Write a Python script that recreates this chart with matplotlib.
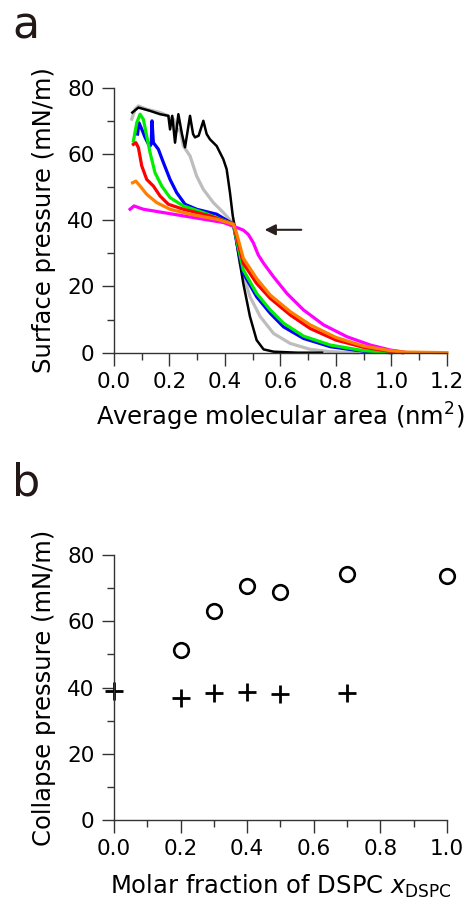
import matplotlib
matplotlib.use("Agg")
import matplotlib.pyplot as plt
from matplotlib.ticker import MultipleLocator

# panel a: pi-A isotherms (area in nm^2, pressure in mN/m)
gray_x = [0.064, 0.076, 0.088, 0.118, 0.166, 0.196, 0.208, 0.215, 0.226, 0.238, 0.25, 0.274, 0.298,
          0.322, 0.358, 0.394, 0.43, 0.442, 0.454, 0.49, 0.527, 0.575, 0.635, 0.707, 0.78, 0.876]
gray_y = [70.5, 73.5, 74.5, 73.5, 72.5, 71.5, 69.4, 70.5, 66.9, 67.5, 62.4, 59.4, 53.3,
          49.3, 45.3, 42.3, 39.0, 33.5, 27, 16.9, 10.9, 5.8, 2.8, 1.0, 0.3, 0]

black_x = [0.066, 0.088, 0.13, 0.166, 0.196, 0.202, 0.21, 0.22, 0.232, 0.245, 0.256, 0.274, 0.285,
           0.292, 0.305, 0.322, 0.334, 0.346, 0.37, 0.394, 0.406, 0.418, 0.428, 0.436, 0.442,
           0.466, 0.49, 0.514, 0.539, 0.575, 0.66, 0.75]
black_y = [72.5, 74, 73, 72, 71.5, 67.4, 71.5, 63.4, 72, 66, 62, 71.5, 66,
           65, 65.5, 70, 66, 64.4, 62.4, 58.4, 55.4, 48.3, 41.3, 37.7, 33,
           20.9, 10.9, 3.8, 1.0, 0.3, 0, 0]

blue_x = [0.085, 0.09, 0.1, 0.112, 0.124, 0.13, 0.134, 0.137, 0.142, 0.16, 0.178, 0.202, 0.226,
          0.256, 0.298, 0.37, 0.43, 0.442, 0.466, 0.514, 0.563, 0.611, 0.683, 0.78, 0.9, 1.0]
blue_y = [66, 69.4, 67.5, 65, 63, 62.4, 63, 70, 63.4, 61.4, 57.4, 52.3, 48.3,
          44.8, 43.3, 41.8, 38.8, 33.5, 24, 16.9, 11.9, 7.8, 4.3, 1.8, 0.4, 0]

green_x = [0.07, 0.082, 0.094, 0.106, 0.118, 0.13, 0.148, 0.172, 0.202, 0.25, 0.322, 0.43,
           0.442, 0.466, 0.514, 0.563, 0.611, 0.683, 0.78, 0.9, 1.0]
green_y = [63.9, 69.4, 72, 70.4, 65.4, 60.4, 54.3, 50.3, 46.8, 44.3, 42.3, 38.8,
           34, 25, 17.9, 12.9, 8.9, 5.0, 2.3, 0.6, 0]

red_x = [0.07, 0.079, 0.088, 0.1, 0.118, 0.142, 0.166, 0.196, 0.25, 0.346, 0.43, 0.442, 0.466,
         0.514, 0.563, 0.635, 0.707, 0.8, 0.9, 0.996, 1.04]
red_y = [62.9, 63.4, 61.9, 56.4, 52.3, 50.3, 47.3, 44.8, 43.3, 41.3, 38.8, 35, 27,
         20.9, 16.4, 11.4, 7.3, 3.8, 1.6, 0.4, 0]

orange_x = [0.067, 0.079, 0.094, 0.118, 0.154, 0.202, 0.274, 0.37, 0.43, 0.442, 0.466, 0.514,
            0.563, 0.635, 0.707, 0.8, 0.9, 0.996, 1.044, 1.2]
orange_y = [51.3, 51.8, 50.3, 47.8, 45.3, 43.3, 41.8, 40.3, 38.8, 36, 28.5, 22.4,
            17.4, 12.4, 8.4, 4.6, 2.0, 0.6, 0.2, 0]

magenta_x = [0.058, 0.072, 0.106, 0.178, 0.286, 0.394, 0.442, 0.466, 0.484, 0.502, 0.52, 0.539,
             0.575, 0.623, 0.683, 0.755, 0.84, 0.924, 0.996, 1.044]
magenta_y = [43.3, 44.3, 43.3, 42.3, 40.8, 39.3, 37.8, 37.0, 35.7, 33.2, 29.5, 27,
             22.9, 17.9, 12.9, 8.4, 4.8, 2.3, 0.8, 0.2]

# panel b: collapse pressures vs DSPC fraction
circle_x = [0.2, 0.3, 0.4, 0.5, 0.7, 1.0]
circle_y = [51.3, 63.2, 70.7, 68.9, 74.2, 73.7]
cross_x = [0.0, 0.2, 0.3, 0.4, 0.5, 0.7]
cross_y = [39.0, 36.7, 38.2, 38.5, 38.0, 38.4]

plt.rcParams['font.family'] = ['DejaVu Sans']
axis_col = '#333333'

fig = plt.figure(figsize=(4.66, 9.05), dpi=100)
ax1 = fig.add_axes([0.2446, 0.6103, 0.7146, 0.2928])
ax2 = fig.add_axes([0.2446, 0.0939, 0.7146, 0.2928])

curves = [(gray_x, gray_y, '#bdbdbd', 2.3),
          (black_x, black_y, 'black', 1.8),
          (blue_x, blue_y, '#0000ff', 2.3),
          (green_x, green_y, '#00ee00', 2.3),
          (red_x, red_y, '#ff0000', 2.3),
          (magenta_x, magenta_y, '#ff00ff', 2.3),
          (orange_x, orange_y, '#ff8000', 2.3)]
for xs, ys, c, lw in curves:
    ax1.plot(xs, ys, color=c, lw=lw, clip_on=False)

ax1.annotate('', xy=(0.533, 37.1), xytext=(0.685, 37.1),
             arrowprops=dict(arrowstyle='-|>', color='#2b2020', lw=1.5, mutation_scale=16))

ax1.set_xlim(0, 1.2)
ax1.set_ylim(0, 80)
ax1.xaxis.set_minor_locator(MultipleLocator(0.1))
ax1.set_xticks([0.0, 0.2, 0.4, 0.6, 0.8, 1.0, 1.2])
ax1.set_xticklabels(['0.0', '0.2', '0.4', '0.6', '0.8', '1.0', '1.2'])
ax1.set_xlabel('Average molecular area (nm$^2$)', fontsize=17.5)
ax1.set_ylabel('Surface pressure (mN/m)', fontsize=17.5)

ax2.plot(circle_x, circle_y, 'o', ms=10.5, mfc='none', mec='black', mew=1.9, clip_on=False)
ax2.plot(cross_x, cross_y, '+', ms=13, mec='black', mew=2.0, clip_on=False)
ax2.set_xlim(0, 1.0)
ax2.set_ylim(0, 80)
ax2.set_xticks([0.0, 0.2, 0.4, 0.6, 0.8, 1.0])
ax2.set_xticklabels(['0.0', '0.2', '0.4', '0.6', '0.8', '1.0'])
ax2.xaxis.set_minor_locator(MultipleLocator(0.1))
ax2.set_xlabel(r'Molar fraction of DSPC $x_\mathregular{DSPC}$', fontsize=17.5)
ax2.set_ylabel('Collapse pressure (mN/m)', fontsize=17.5)

for ax in (ax1, ax2):
    ax.yaxis.set_major_locator(MultipleLocator(20))
    ax.yaxis.set_minor_locator(MultipleLocator(10))
    for s in ('top', 'right'):
        ax.spines[s].set_visible(False)
    for s in ('left', 'bottom'):
        ax.spines[s].set_color(axis_col)
        ax.spines[s].set_linewidth(1.0)
    ax.tick_params(which='major', length=9, width=1.0, color=axis_col, labelsize=15.5, pad=5)
    ax.tick_params(which='minor', length=5, width=1.0, color=axis_col)
    ax.yaxis.set_label_coords(-0.175, 0.5)

ax1.xaxis.set_label_coords(0.5, -0.18)
ax2.xaxis.set_label_coords(0.5, -0.2)

fig.text(0.026, 0.957, 'a', fontsize=32, color='#231815')
fig.text(0.026, 0.452, 'b', fontsize=32, color='#231815')

fig.savefig('out.png', dpi=100)
